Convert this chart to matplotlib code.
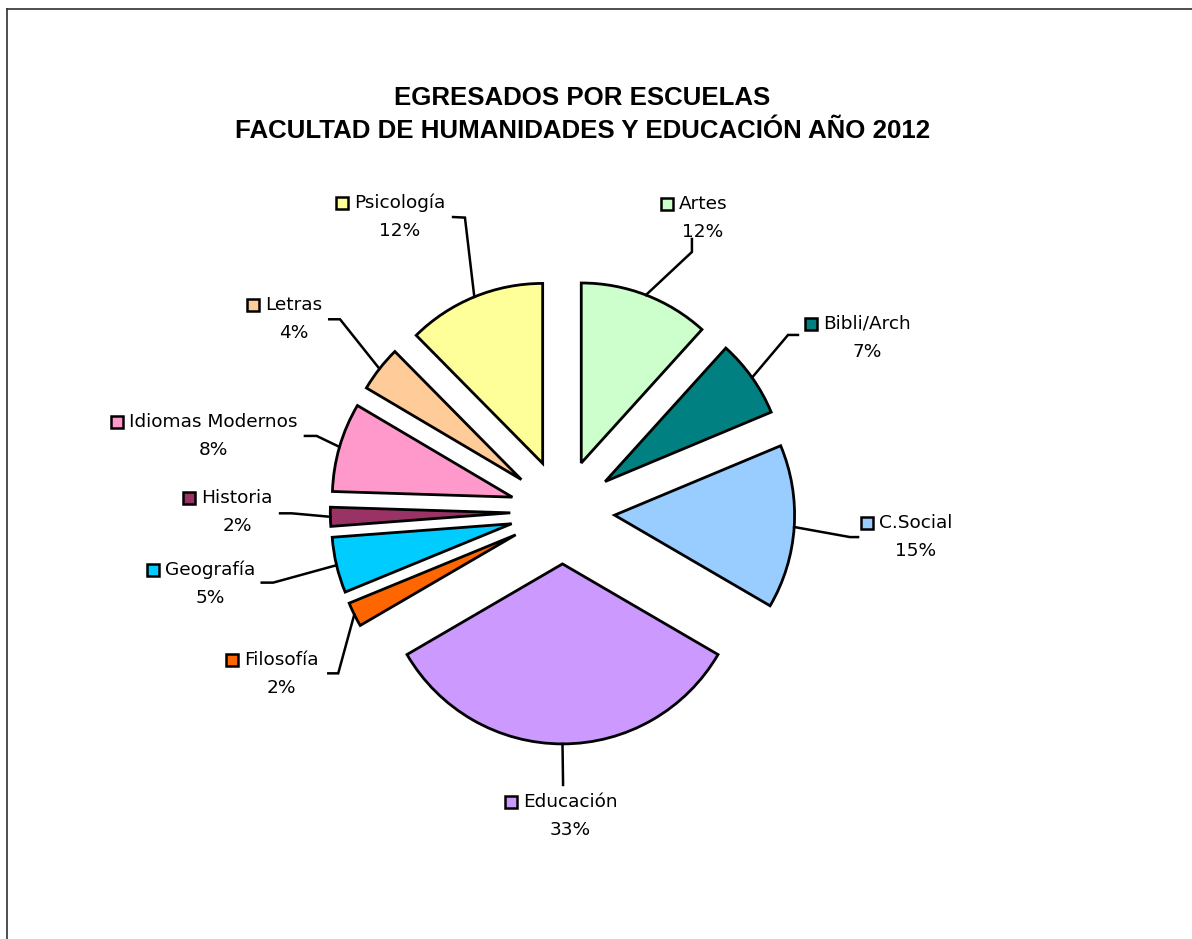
import matplotlib
matplotlib.use('Agg')
import matplotlib.pyplot as plt
from matplotlib.patches import Rectangle
from matplotlib.lines import Line2D
import numpy as np

# datos (porcentaje de egresados)
escuelas = ['Artes', 'Bibli/Arch', 'C.Social', 'Educación', 'Filosofía',
            'Geografía', 'Historia', 'Idiomas Modernos', 'Letras', 'Psicología']
porcentajes = [11.7, 7.0, 14.7, 33.2, 2.2, 5.0, 1.7, 8.0, 4.1, 12.4]
colores = ['#CCFFCC', '#008080', '#99CCFF', '#CC99FF', '#FF6600',
           '#00CCFF', '#993366', '#FF99CC', '#FFCC99', '#FFFF99']

# centro de cada etiqueta (en radios del pastel)
pos_etiquetas = [(0.781, 1.631), (1.692, 0.965), (1.964, -0.138), (0.042, -1.688),
                 (-1.564, -0.902), (-1.958, -0.401), (-1.808, -0.004),
                 (-1.942, 0.418), (-1.494, 1.073), (-0.903, 1.637)]
# codo y final de las lineas guia
codos = [(0.719, 1.443), (1.253, 0.982), (1.597, -0.141), (0.003, -1.50),
         (-1.246, -0.898), (-1.607, -0.394), (-1.504, -0.009),
         (-1.366, 0.421), (-1.236, 1.069), (-0.542, 1.634)]
finales = [(0.719, 1.515), (1.308, 0.982), (1.642, -0.141), (0.003, -1.518),
           (-1.301, -0.898), (-1.671, -0.394), (-1.569, -0.009),
           (-1.431, 0.421), (-1.296, 1.069), (-0.608, 1.637)]

W, H = 1192, 939
cx, cy, R = 562.5, 511.7, 180.0
separacion = 0.29

fig = plt.figure(figsize=(W / 100, H / 100), dpi=100)
ax = fig.add_axes([0, 0, 1, 1])
wedges, _ = ax.pie(porcentajes, colors=colores, startangle=90, counterclock=False,
                   explode=[separacion] * len(porcentajes), radius=1,
                   wedgeprops=dict(edgecolor='black', linewidth=2.0))
ax.set_xlim(-cx / R, (W - cx) / R)
ax.set_ylim(-(H - cy) / R, cy / R)
ax.set_aspect('equal')
ax.axis('off')

# titulo
fig.text(582.5 / W, 1 - 114.5 / H,
         'EGRESADOS POR ESCUELAS\nFACULTAD DE HUMANIDADES Y EDUCACIÓN AÑO 2012',
         ha='center', va='center', fontsize=18.6, fontweight='bold',
         family='Liberation Sans', linespacing=1.5)

# marco del grafico
fig.add_artist(Line2D([6.5 / W, 6.5 / W], [0, 1 - 8.5 / H], transform=fig.transFigure,
                      color='#303030', lw=1.2))
fig.add_artist(Line2D([6.5 / W, 1], [1 - 8.5 / H, 1 - 8.5 / H], transform=fig.transFigure,
                      color='#303030', lw=1.2))

total = sum(porcentajes)
acum = 0
dy = 14 / R
textos = []
for i, nombre in enumerate(escuelas):
    phi = np.radians((acum + porcentajes[i] / 2) / total * 360)
    acum += porcentajes[i]
    arco = ((1 + separacion) * np.sin(phi), (1 + separacion) * np.cos(phi))
    xs = [arco[0], codos[i][0], finales[i][0]]
    ys = [arco[1], codos[i][1], finales[i][1]]
    ax.plot(xs, ys, color='black', lw=1.8, solid_joinstyle='miter')

    x, y = pos_etiquetas[i]
    t1 = ax.text(x, y + dy, nombre, ha='center', va='center', fontsize=13.3,
                 family='DejaVu Sans')
    ax.text(x, y - dy, '%d%%' % round(porcentajes[i] / total * 100), ha='center',
            va='center', fontsize=13.3, family='DejaVu Sans')
    textos.append((t1, i))

# cuadritos de la leyenda junto a cada etiqueta
fig.canvas.draw()
lado = 12 / R
for t1, i in textos:
    bb = t1.get_window_extent().transformed(ax.transData.inverted())
    x, y = pos_etiquetas[i]
    ax.add_patch(Rectangle((bb.x0 - 6 / R - lado, y + dy - lado / 2), lado, lado,
                           facecolor=colores[i], edgecolor='black', lw=1.8))

fig.savefig('out.png', dpi=100)
